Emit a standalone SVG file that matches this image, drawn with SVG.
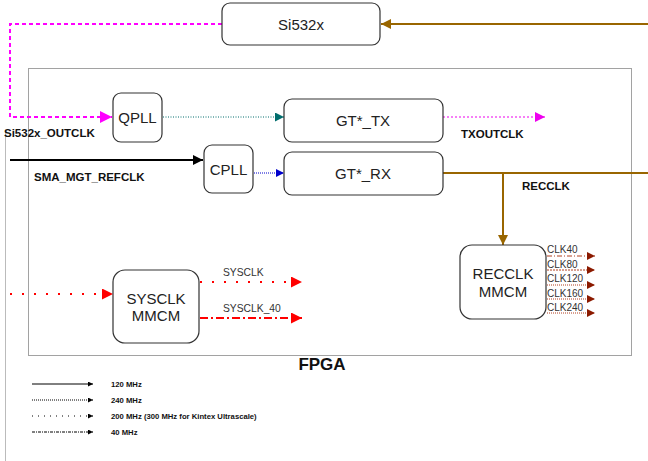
<svg xmlns="http://www.w3.org/2000/svg" width="648" height="461" viewBox="0 0 648 461">
<defs>
<style>
.box{fill:#fff;stroke:#333;stroke-width:1.2}
.t{font-family:"Liberation Sans",Arial,sans-serif;fill:#222;text-anchor:middle}
.b{font-family:"Liberation Sans",Arial,sans-serif;font-weight:bold;fill:#111}
.s{font-family:"Liberation Sans",Arial,sans-serif;fill:#333}
</style>
<marker id="aBrown" viewBox="0 0 10 10" refX="10" refY="5" markerWidth="14" markerHeight="10" markerUnits="userSpaceOnUse" orient="auto"><path d="M0,0L10,5L0,10z" fill="#996600"/></marker>
<marker id="aMag" viewBox="0 0 10 10" refX="10" refY="5" markerWidth="16" markerHeight="12" markerUnits="userSpaceOnUse" orient="auto"><path d="M0,0L10,5L0,10z" fill="#ff00ff"/></marker>
<marker id="aMagS" viewBox="0 0 10 10" refX="10" refY="5" markerWidth="14" markerHeight="10" markerUnits="userSpaceOnUse" orient="auto"><path d="M0,0L10,5L0,10z" fill="#ee00ee"/></marker>
<marker id="aTeal" viewBox="0 0 10 10" refX="10" refY="5" markerWidth="12" markerHeight="9" markerUnits="userSpaceOnUse" orient="auto"><path d="M0,0L10,5L0,10z" fill="#006d6d"/></marker>
<marker id="aBlue" viewBox="0 0 10 10" refX="10" refY="5" markerWidth="10" markerHeight="8" markerUnits="userSpaceOnUse" orient="auto"><path d="M0,0L10,5L0,10z" fill="#0000cc"/></marker>
<marker id="aBlack" viewBox="0 0 10 10" refX="10" refY="5" markerWidth="14" markerHeight="10" markerUnits="userSpaceOnUse" orient="auto"><path d="M0,0L10,5L0,10z" fill="#000"/></marker>
<marker id="aRed" viewBox="0 0 10 10" refX="10" refY="5" markerWidth="15" markerHeight="11" markerUnits="userSpaceOnUse" orient="auto"><path d="M0,0L10,5L0,10z" fill="#ff0000"/></marker>
<marker id="aDR" viewBox="0 0 10 10" refX="10" refY="5" markerWidth="11" markerHeight="8" markerUnits="userSpaceOnUse" orient="auto"><path d="M0,0L10,5L0,10z" fill="#8b1a00"/></marker>
<marker id="aL" viewBox="0 0 10 10" refX="10" refY="5" markerWidth="7" markerHeight="5" markerUnits="userSpaceOnUse" orient="auto"><path d="M0,0L10,5L0,10z" fill="#000"/></marker>
</defs>
<rect width="648" height="461" fill="#fff"/>
<line x1="5.5" y1="130" x2="5.5" y2="461" stroke="#bbb" stroke-width="1"/>
<g id="fpga">
<rect x="28.5" y="68.5" width="603" height="287" fill="none" stroke="#444" stroke-width="1" stroke-dasharray="1,1"/>
<text class="b" x="322" y="370" font-size="17" text-anchor="middle">FPGA</text>
</g>
<g id="connectors">
<line x1="648" y1="24" x2="381" y2="24" stroke="#996600" stroke-width="2" marker-end="url(#aBrown)"/>
<polyline points="222,24 10,24 10,117 112,117" fill="none" stroke="#ff00ff" stroke-width="2" stroke-dasharray="4,3" marker-end="url(#aMag)"/>
<line x1="163" y1="117" x2="284" y2="117" stroke="#006d6d" stroke-width="1" stroke-dasharray="1,1.5" marker-end="url(#aTeal)"/>
<line x1="443" y1="117" x2="545" y2="117" stroke="#ee00ee" stroke-width="1.2" stroke-dasharray="2,2" marker-end="url(#aMagS)"/>
<line x1="10" y1="160" x2="203" y2="160" stroke="#000" stroke-width="2" marker-end="url(#aBlack)"/>
<line x1="254" y1="173" x2="284" y2="173" stroke="#0000cc" stroke-width="1" stroke-dasharray="1,1" marker-end="url(#aBlue)"/>
<line x1="443" y1="173" x2="648" y2="173" stroke="#996600" stroke-width="2"/>
<line x1="503" y1="173" x2="503" y2="245" stroke="#996600" stroke-width="2" marker-end="url(#aBrown)"/>
<line x1="10" y1="294" x2="113" y2="294" stroke="#ff0000" stroke-width="2" stroke-dasharray="2,10" marker-end="url(#aRed)"/>
<line x1="200" y1="282" x2="302" y2="282" stroke="#ff0000" stroke-width="2" stroke-dasharray="2,10" marker-end="url(#aRed)"/>
<line x1="200" y1="318" x2="302" y2="318" stroke="#ff0000" stroke-width="2" stroke-dasharray="8,3,2,3" marker-end="url(#aRed)"/>
<line x1="547" y1="256" x2="595" y2="256" stroke="#b04020" stroke-width="1" stroke-dasharray="5,2,1,2" marker-end="url(#aDR)"/>
<line x1="547" y1="270" x2="595" y2="270" stroke="#b04020" stroke-width="1" stroke-dasharray="2,1" marker-end="url(#aDR)"/>
<line x1="547" y1="285" x2="595" y2="285" stroke="#b04020" stroke-width="1" stroke-dasharray="1,1" marker-end="url(#aDR)"/>
<line x1="547" y1="299" x2="595" y2="299" stroke="#b04020" stroke-width="1" stroke-dasharray="1,1" marker-end="url(#aDR)"/>
<line x1="547" y1="313" x2="595" y2="313" stroke="#b04020" stroke-width="1" stroke-dasharray="1,1" marker-end="url(#aDR)"/>
</g>
<g id="si532x"><rect class="box" x="222" y="3" width="158" height="42" rx="8"/><text class="t" x="301" y="30" font-size="15">Si532x</text></g>
<g id="qpll"><rect class="box" x="113" y="93" width="49" height="49" rx="8"/><text class="t" x="137.5" y="123" font-size="15">QPLL</text></g>
<g id="cpll"><rect class="box" x="204" y="145" width="49" height="48" rx="8"/><text class="t" x="228.5" y="175" font-size="15">CPLL</text></g>
<g id="gttx"><rect class="box" x="284" y="99" width="159" height="43" rx="8"/><text class="t" x="363" y="126" font-size="15">GT*_TX</text></g>
<g id="gtrx"><rect class="box" x="284" y="152" width="159" height="43" rx="8"/><text class="t" x="363" y="179" font-size="15">GT*_RX</text></g>
<g id="sysclkmmcm"><rect class="box" x="113" y="270" width="86" height="73" rx="12"/><text class="t" x="156" y="304" font-size="15">SYSCLK</text><text class="t" x="156" y="321" font-size="15">MMCM</text></g>
<g id="recclkmmcm"><rect class="box" x="460" y="245" width="86" height="74" rx="12"/><text class="t" x="503" y="279" font-size="15">RECCLK</text><text class="t" x="503" y="297" font-size="15">MMCM</text></g>
<g id="labels">
<text class="b" x="4" y="137" font-size="11.5">Si532x_OUTCLK</text>
<text class="b" x="34" y="181" font-size="11.5">SMA_MGT_REFCLK</text>
<text class="b" x="461" y="138" font-size="11.5">TXOUTCLK</text>
<text class="b" x="522" y="190" font-size="11.5">RECCLK</text>
<text class="s" x="223" y="276" font-size="10.3">SYSCLK</text>
<text class="s" x="223" y="312" font-size="10.3">SYSCLK_40</text>
<text class="s" x="547" y="253" font-size="10">CLK40</text>
<text class="s" x="547" y="268" font-size="10">CLK80</text>
<text class="s" x="547" y="282" font-size="10">CLK120</text>
<text class="s" x="547" y="297" font-size="10">CLK160</text>
<text class="s" x="547" y="311" font-size="10">CLK240</text>
</g>
<g id="legend">
<line x1="32" y1="384" x2="93" y2="384" stroke="#000" stroke-width="1" marker-end="url(#aL)"/>
<line x1="32" y1="400" x2="93" y2="400" stroke="#000" stroke-width="1" stroke-dasharray="1,1" marker-end="url(#aL)"/>
<line x1="32" y1="416" x2="93" y2="416" stroke="#000" stroke-width="1" stroke-dasharray="1,5" marker-end="url(#aL)"/>
<line x1="32" y1="432" x2="93" y2="432" stroke="#000" stroke-width="1" stroke-dasharray="3,1,1,1" marker-end="url(#aL)"/>
<text class="b" x="111" y="387" font-size="7.7">120 MHz</text>
<text class="b" x="111" y="403" font-size="7.7">240 MHz</text>
<text class="b" x="111" y="419" font-size="7.7">200 MHz (300 MHz for Kintex Ultrascale)</text>
<text class="b" x="111" y="435" font-size="7.7">40 MHz</text>
</g>
</svg>
